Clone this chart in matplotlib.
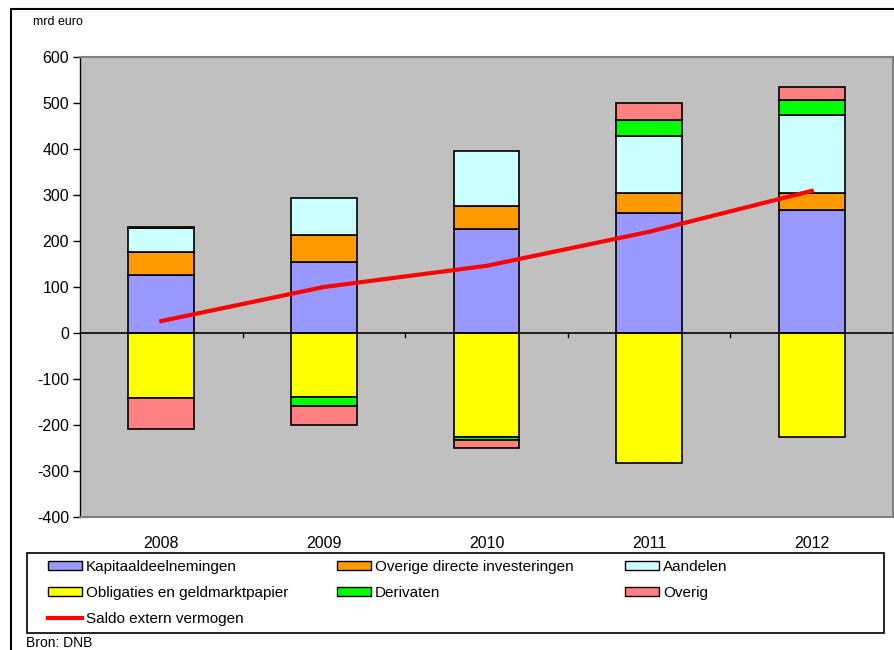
import numpy as np
import matplotlib.pyplot as plt
from matplotlib.patches import Rectangle, Patch
from matplotlib.lines import Line2D

plt.rcParams['font.family'] = ['Liberation Sans', 'DejaVu Sans']
plt.rcParams['axes.unicode_minus'] = False

jaren = ['2008', '2009', '2010', '2011', '2012']

# positieve posten (mrd euro)
kapitaal = [126, 154, 226, 261, 267]
overige_directe = [50, 59, 51, 44, 38]
aandelen = [52, 80, 118, 123, 169]
derivaten_pos = [3, 0, 0, 35, 33]
overig_pos = [0, 0, 0, 37, 28]

# negatieve posten (mrd euro)
obligaties = [-141, -139, -227, -283, -227]
derivaten_neg = [0, -20, -6, 0, 0]
overig_neg = [-68, -41, -16, 0, 0]

saldo = [26, 100, 146, 220, 309]

c_kap = '#9999FF'
c_ovd = '#FF9900'
c_aan = '#CCFFFF'
c_obl = '#FFFF00'
c_der = '#00FF00'
c_ovr = '#FF8080'

W, H = 894, 650
fig = plt.figure(figsize=(W/100, H/100), dpi=100)
ax = fig.add_axes([80/W, 1-517/H, 813/W, 460/H])
ax.set_facecolor('#C0C0C0')

x = np.arange(len(jaren))
w = 0.405
kw = dict(width=w, edgecolor='black', linewidth=1.2, zorder=2)

bottom = np.zeros(len(jaren))
for vals, col in [(kapitaal, c_kap), (overige_directe, c_ovd), (aandelen, c_aan),
                  (derivaten_pos, c_der), (overig_pos, c_ovr)]:
    v = np.array(vals, dtype=float)
    ax.bar(x[v != 0], v[v != 0], bottom=bottom[v != 0], color=col, **kw)
    bottom += v

bottom = np.zeros(len(jaren))
for vals, col in [(obligaties, c_obl), (derivaten_neg, c_der), (overig_neg, c_ovr)]:
    v = np.array(vals, dtype=float)
    ax.bar(x[v != 0], v[v != 0], bottom=bottom[v != 0], color=col, **kw)
    bottom += v

ax.axhline(0, color='black', linewidth=1.2, zorder=3)
for xt in x[:-1] + 0.5:
    ax.plot([xt, xt], [0, -8], color='black', linewidth=1, zorder=3)

ax.plot(x, saldo, color='#FF0000', linewidth=3, zorder=4)

ax.set_xlim(-0.5, 4.5)
ax.set_ylim(-400, 600)
ax.set_yticks(np.arange(-400, 601, 100))
ax.set_xticks(x)
ax.set_xticklabels(jaren)
ax.tick_params(axis='x', length=0, labelsize=11.5, pad=14)
ax.tick_params(axis='y', length=5, width=1, labelsize=11.5, pad=3)
for s in ['top', 'right', 'bottom']:
    ax.spines[s].set_color('#808080')
    ax.spines[s].set_linewidth(1.5)
ax.spines['left'].set_color('black')
ax.spines['left'].set_linewidth(1)

fig.text(33/W, 1-22/H, 'mrd euro', fontsize=9, va='center', ha='left')
fig.text(26/W, 1-643/H, 'Bron: DNB', fontsize=10, va='center', ha='left')

# buitenrand van de figuur
fig.patches.append(Rectangle((11/W, -0.01), 0.99, 1 - 9/H + 0.01, transform=fig.transFigure,
                             fill=False, edgecolor='black', linewidth=1.5))
# kader van de legenda
fig.patches.append(Rectangle((27/W, 1-633/H), (884-27)/W, 80/H, transform=fig.transFigure,
                             facecolor='white', edgecolor='black', linewidth=1.2))

kolommen = [
    (48, [Patch(facecolor=c_kap, edgecolor='black', label='Kapitaaldeelnemingen'),
          Patch(facecolor=c_obl, edgecolor='black', label='Obligaties en geldmarktpapier'),
          Line2D([], [], color='#FF0000', linewidth=3, label='Saldo extern vermogen')]),
    (337, [Patch(facecolor=c_ovd, edgecolor='black', label='Overige directe investeringen'),
           Patch(facecolor=c_der, edgecolor='black', label='Derivaten')]),
    (625, [Patch(facecolor=c_aan, edgecolor='black', label='Aandelen'),
           Patch(facecolor=c_ovr, edgecolor='black', label='Overig')]),
]
for x0, hs in kolommen:
    fig.legend(handles=hs, loc='upper left', bbox_to_anchor=(x0/W, 1-560/H),
               fontsize=11, frameon=False, handlelength=2.2, handleheight=0.55,
               handletextpad=0.3, labelspacing=0.8, borderaxespad=0, borderpad=0)

fig.savefig('out.png', dpi=100)
